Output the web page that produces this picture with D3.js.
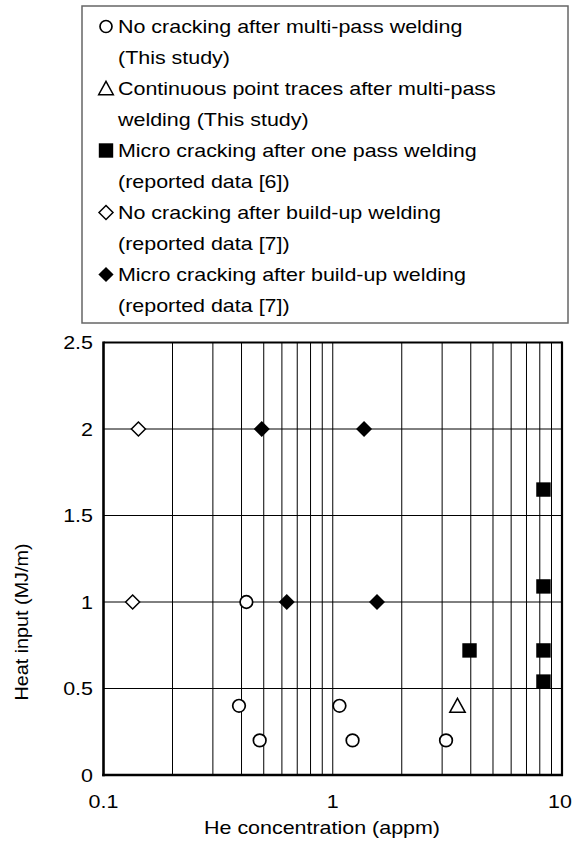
<!DOCTYPE html>
<html>
<head>
<meta charset="utf-8">
<script src="https://cdn.jsdelivr.net/npm/d3@7"></script>
<style>
  html, body { margin: 0; padding: 0; background: #fff; }
  svg { display: block; font-family: "Liberation Sans", Arial, sans-serif; }
</style>
</head>
<body>
<svg id="chart" width="574" height="853"></svg>
<script>
// He concentration (appm) vs heat input (MJ/m) for each weld condition
const noCrackMultiX = [0.42, 0.39, 0.48, 1.07, 1.22, 3.12];
const noCrackMultiY = [1.0, 0.4, 0.2, 0.4, 0.2, 0.2];
const pointTracesX = [3.5];
const pointTracesY = [0.4];
const microOnePassX = [3.95, 8.3, 8.3, 8.3, 8.3];
const microOnePassY = [0.72, 1.65, 1.09, 0.72, 0.54];
const noCrackBuildUpX = [0.142, 0.134];
const noCrackBuildUpY = [2.0, 1.0];
const microBuildUpX = [0.49, 1.37, 0.63, 1.56];
const microBuildUpY = [2.0, 2.0, 1.0, 1.0];

const xTickValues = [0.1, 1, 10];
const xTickLabels = ["0.1", "1", "10"];
const yTickValues = [0, 0.5, 1, 1.5, 2, 2.5];
const yTickLabels = ["0", "0.5", "1", "1.5", "2", "2.5"];
const xGridValues = [0.2, 0.3, 0.4, 0.5, 0.6, 0.7, 0.8, 0.9, 1, 2, 3, 4, 5, 6, 7, 8, 9];
const yGridValues = [0.5, 1, 1.5, 2];

const legendLabels = [
  ["No cracking after multi-pass welding", "(This study)"],
  ["Continuous point traces after multi-pass", "welding (This study)"],
  ["Micro cracking after one pass welding", "(reported data [6])"],
  ["No cracking after build-up welding", "(reported data [7])"],
  ["Micro cracking after build-up welding", "(reported data [7])"]
];
const xTitle = "He concentration (appm)";
const yTitle = "Heat input (MJ/m)";

const svg = d3.select("#chart");
const plot = { left: 103.5, right: 562, top: 342.5, bottom: 775 };

const x = d3.scaleLog().domain([0.1, 10]).range([plot.left, plot.right]);
const y = d3.scaleLinear().domain([0, 2.5]).range([plot.bottom, plot.top]);

const FONT = 18.5, STRETCH = 1.16;

// text drawn slightly widened, as in the source typesetting
function label(g, str, tx, ty, anchor, rotate, size, stretch) {
  const grp = g.append("g")
    .attr("transform", `translate(${tx},${ty})` + (rotate ? ` rotate(${rotate})` : "") + ` scale(${stretch || STRETCH},1)`);
  grp.append("text")
    .attr("font-size", size || FONT)
    .attr("text-anchor", anchor)
    .attr("fill", "#000")
    .text(str);
  return grp;
}

// symbol shapes
const shapes = {
  circle: (g, cx, cy, s) => g.append("circle").attr("cx", cx).attr("cy", cy).attr("r", 6.3 * s)
    .attr("fill", "#fff").attr("stroke", "#000").attr("stroke-width", 1.7),
  triangle: (g, cx, cy, s) => g.append("path")
    .attr("d", `M${cx},${cy - 7.5 * s} L${cx + 7.7 * s},${cy + 6.5 * s} L${cx - 7.7 * s},${cy + 6.5 * s} Z`)
    .attr("fill", "#fff").attr("stroke", "#000").attr("stroke-width", 1.5),
  square: (g, cx, cy, s) => g.append("rect").attr("x", cx - 7.2 * s).attr("y", cy - 7.2 * s)
    .attr("width", 14.4 * s).attr("height", 14.4 * s).attr("fill", "#000"),
  diamondOpen: (g, cx, cy, s) => g.append("path")
    .attr("d", `M${cx},${cy - 7 * s} L${cx + 7 * s},${cy} L${cx},${cy + 7 * s} L${cx - 7 * s},${cy} Z`)
    .attr("fill", "#fff").attr("stroke", "#000").attr("stroke-width", 1.5),
  diamondFilled: (g, cx, cy, s) => g.append("path")
    .attr("d", `M${cx},${cy - 8 * s} L${cx + 8 * s},${cy} L${cx},${cy + 8 * s} L${cx - 8 * s},${cy} Z`)
    .attr("fill", "#000")
};

const series = [
  { xs: noCrackMultiX, ys: noCrackMultiY, shape: "circle" },
  { xs: pointTracesX, ys: pointTracesY, shape: "triangle" },
  { xs: microOnePassX, ys: microOnePassY, shape: "square" },
  { xs: noCrackBuildUpX, ys: noCrackBuildUpY, shape: "diamondOpen" },
  { xs: microBuildUpX, ys: microBuildUpY, shape: "diamondFilled" }
];

// legend box
const legend = svg.append("g");
legend.append("rect")
  .attr("x", 82).attr("y", 6).attr("width", 486).attr("height", 317)
  .attr("fill", "#fff").attr("stroke", "#666").attr("stroke-width", 1.5);
legendLabels.forEach((lines, i) => {
  const b1 = 33 + 62 * i, b2 = b1 + 31;
  const legendScale = { circle: 0.95, triangle: 0.95, square: 1.0, diamondOpen: 1.0, diamondFilled: 0.95 }[series[i].shape];
  shapes[series[i].shape](legend, 106, b1 - 6.5, legendScale);
  label(legend, lines[0], 118, b1, "start");
  label(legend, lines[1], 118, b2, "start");
});

// grid
const grid = svg.append("g").attr("stroke", "#000").attr("stroke-width", 1);
grid.selectAll("line.v").data(xGridValues).join("line")
  .attr("x1", d => x(d)).attr("x2", d => x(d))
  .attr("y1", plot.top).attr("y2", plot.bottom);
grid.selectAll("line.h").data(yGridValues).join("line")
  .attr("x1", plot.left).attr("x2", plot.right)
  .attr("y1", d => y(d)).attr("y2", d => y(d));

// frame
const frame = svg.append("g").attr("stroke", "#000").attr("fill", "none");
frame.append("line").attr("x1", plot.left).attr("x2", plot.right).attr("y1", plot.top).attr("y2", plot.top).attr("stroke-width", 2.2);
frame.append("line").attr("x1", plot.right).attr("x2", plot.right).attr("y1", plot.top - 1).attr("y2", plot.bottom + 1).attr("stroke-width", 2.2);
frame.append("line").attr("x1", plot.left).attr("x2", plot.left).attr("y1", plot.top - 1).attr("y2", plot.bottom + 1.2).attr("stroke-width", 2.6);
frame.append("line").attr("x1", plot.left - 1.3).attr("x2", plot.right + 1).attr("y1", plot.bottom).attr("y2", plot.bottom).attr("stroke-width", 2.6);

// tick labels
const axes = svg.append("g");
yTickValues.forEach((v, i) => label(axes, yTickLabels[i], 93, y(v) + 6.8, "end"));
xTickValues.forEach((v, i) => label(axes, xTickLabels[i], x(v) - (v === 10 ? 2 : 0), 808, "middle"));

// axis titles
label(axes, xTitle, 322, 834, "middle");
label(axes, yTitle, 27.5, 622, "middle", -90, 17.5, 1.13);

// data marks
const marks = svg.append("g");
series.forEach(s => {
  s.xs.forEach((xv, i) => shapes[s.shape](marks, x(xv), y(s.ys[i]), 1));
});
</script>
</body>
</html>
